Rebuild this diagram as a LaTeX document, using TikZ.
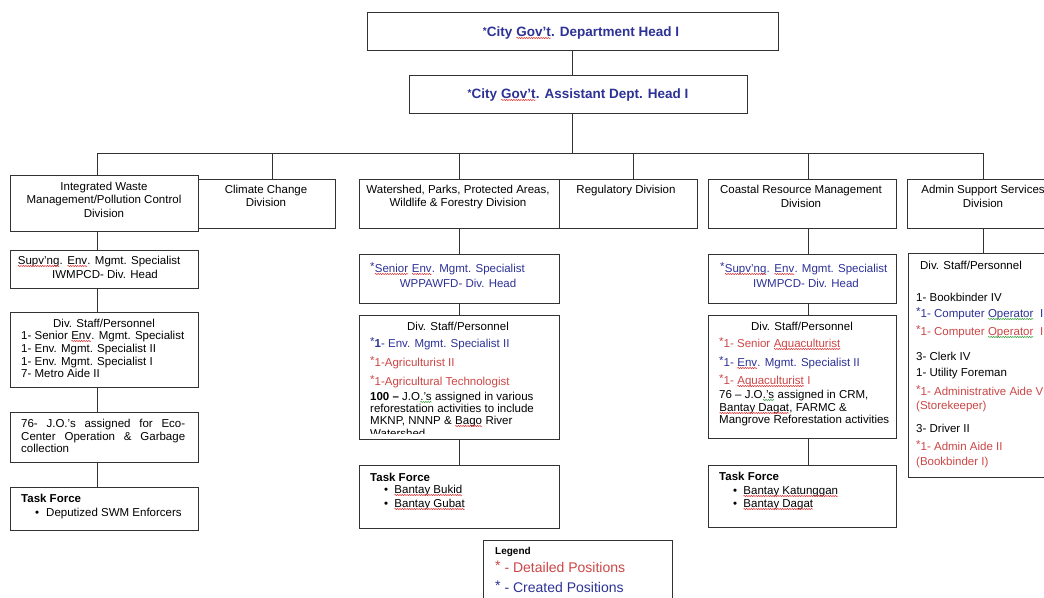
\documentclass[tikz,border=0pt]{standalone}
\usepackage{fontspec}
\setmainfont{Liberation Sans}
\usetikzlibrary{decorations.pathmorphing}

\definecolor{blu}{RGB}{45,50,150}
\definecolor{rd}{RGB}{205,70,70}
\definecolor{wavered}{RGB}{225,45,45}
\definecolor{wavegreen}{RGB}{50,160,60}
\definecolor{edge}{RGB}{50,50,50}

% spell-check style wavy underlines
\tikzset{squiggle/.style={line width=0.5pt, decorate,
  decoration={snake, amplitude=0.6pt, segment length=2.4pt}}}
\newcommand\wavyline[2]{\tikz[baseline=(w.base)]{\node[inner sep=0pt, outer sep=0pt] (w) {#2};
  \draw[squiggle, #1] ([yshift=-2pt]w.base west) -- ([yshift=-2pt]w.base east);}}
\newcommand\redwave[1]{\wavyline{wavered}{#1}}
\newcommand\greenwave[1]{\wavyline{wavegreen}{#1}}

% raised asterisk marking a position
\newcommand\pstar{\raisebox{1.8pt}{*}}
\newcommand\hstar{\raisebox{2pt}{\fontsize{10}{10}\selectfont *}}
% rectangle node given by its corners
\newcommand\orgbox[5]{\node[box, minimum width={((#4)-(#2))*1pt}, minimum height={((#5)-(#3))*1pt}] (#1) at (#2,#3) {};}
% one line of text, left aligned at its baseline
\newcommand\tl[4]{\node[txt] (#1) at (#2,#3) {#4};}
% one line of text, centred at its baseline
\newcommand\tc[4]{\node[ctxt] (#1) at (#2,#3) {#4};}

\tikzset{
  box/.style={draw=edge, line width=0.9pt, fill=white, rectangle, inner sep=0pt, outer sep=0pt, anchor=north west},
  link/.style={draw=edge, line width=0.9pt},
  txt/.style={inner sep=0pt, font=\fontsize{11.5}{13}\selectfont, anchor=base west},
  ctxt/.style={txt, anchor=base},
  head/.style={inner sep=0pt, anchor=base, text=blu, font=\fontsize{13.5}{16}\selectfont\bfseries},
}

\begin{document}
\begin{tikzpicture}[x=1pt, y=-1pt]
\useasboundingbox (0,0) rectangle (1044,597);
\clip (0,0) rectangle (1044,597);
\fill[white] (0,0) rectangle (1044,597);

% ---- boxes ----
\orgbox{hd}{367}{12}{778}{50}
\orgbox{as}{409}{75}{747}{113}

\orgbox{iw}{10}{175}{198}{231}
\orgbox{cc}{198}{179}{335}{228}
\orgbox{ws}{359}{179}{559}{228}
\orgbox{rg}{559}{179}{697}{228}
\orgbox{cr}{708}{179}{896}{228}
\orgbox{ad}{907}{179}{1080}{228}

\orgbox{sv1}{10}{250}{198}{288}
\orgbox{st1}{10}{312}{198}{387}
\orgbox{jo1}{10}{412}{198}{462}
\orgbox{tf1}{10}{487}{198}{530}

\orgbox{sn2}{359}{254}{559}{303}
\orgbox{st2}{359}{315}{559}{439}
\orgbox{tf2}{359}{465}{559}{528}

\orgbox{sv3}{708}{254}{896}{303}
\orgbox{st3}{708}{315}{896}{438}
\orgbox{tf3}{708}{465}{896}{527}

\orgbox{st4}{908}{253}{1080}{477}

\orgbox{lg}{483}{540}{672}{630}

% ---- connectors ----
\coordinate (busL) at (97,153);
\coordinate (busR) at (983,153);
\coordinate (d1) at (97,153);
\coordinate (d2) at (272,153);
\coordinate (d3) at (459,153);
\coordinate (d4) at (633,153);
\coordinate (d5) at (808,153);
\coordinate (d6) at (983,153);

\draw[link] (hd.south) -- (hd.south |- as.north);
\draw[link] (hd.south |- as.south) -- (hd.south |- busL);
\draw[link] (busL) -- (busR);
\draw[link] (d1) -- (d1 |- iw.north);
\draw[link] (d2) -- (d2 |- cc.north);
\draw[link] (d3) -- (d3 |- ws.north);
\draw[link] (d4) -- (d4 |- rg.north);
\draw[link] (d5) -- (d5 |- cr.north);
\draw[link] (d6) -- (d6 |- ad.north);

\draw[link] (d1 |- iw.south) -- (d1 |- sv1.north);
\draw[link] (d1 |- sv1.south) -- (d1 |- st1.north);
\draw[link] (d1 |- st1.south) -- (d1 |- jo1.north);
\draw[link] (d1 |- jo1.south) -- (d1 |- tf1.north);

\draw[link] (d3 |- ws.south) -- (d3 |- sn2.north);
\draw[link] (d3 |- sn2.south) -- (d3 |- st2.north);
\draw[link] (d3 |- st2.south) -- (d3 |- tf2.north);

\draw[link] (d5 |- cr.south) -- (d5 |- sv3.north);
\draw[link] (d5 |- sv3.south) -- (d5 |- st3.north);
\draw[link] (d5 |- st3.south) -- (d5 |- tf3.north);

\draw[link] (d6 |- ad.south) -- (d6 |- st4.north);

% ---- headings ----
\node[head] (hdt) at (581,36) {\hstar City \redwave{Gov't}. Department Head I};
\node[head] (ast) at (578,98) {\hstar City \redwave{Gov't}. Assistant Dept. Head I};

% ---- division titles ----
\tc{iw1}{104}{190}{Integrated Waste}
\tc{iw2}{104}{203}{Management/Pollution Control}
\tc{iw3}{104}{217}{Division}
\tc{cc1}{266}{193}{Climate Change}
\tc{cc2}{266}{206}{Division}
\tc{ws1}{458}{193}{Watershed, Parks, Protected Areas,}
\tc{ws2}{458}{206}{Wildlife \& Forestry Division}
\tc{rg1}{626}{193}{Regulatory Division}
\tc{cr1}{801}{193}{Coastal Resource Management}
\tc{cr2}{801}{207}{Division}
\tc{ad1}{983}{193}{Admin Support Services}
\tc{ad2}{983}{207}{Division}

% ---- waste management column ----
\tc{sv1a}{99}{264}{\redwave{Supv'ng}. \redwave{Env}. Mgmt. Specialist}
\tc{sv1b}{105}{278}{IWMPCD- Div. Head}

\tc{st1h}{104}{327}{Div. Staff/Personnel}
\tl{st1a}{21}{339}{1- Senior \redwave{Env}. Mgmt. Specialist}
\tl{st1b}{21}{352}{1- Env. Mgmt. Specialist II}
\tl{st1c}{21}{365}{1- Env. Mgmt. Specialist I}
\tl{st1d}{21}{377}{7- Metro Aide II}

\tl{jo1a}{21}{427}{\makebox[164pt][s]{76- J.O.'s assigned for Eco-}}
\tl{jo1b}{21}{440}{\makebox[164pt][s]{Center Operation \& Garbage}}
\tl{jo1c}{21}{452}{collection}

\tl{tf1h}{21}{502}{\textbf{Task Force}}
\tl{tf1p}{35}{516}{\textbullet}
\tl{tf1a}{46}{516}{Deputized SWM Enforcers}

% ---- watershed column ----
\tl{sn2a}{370}{272}{\color{blu}\pstar\redwave{Senior} \redwave{Env}. Mgmt. Specialist}
\tc{sn2b}{458}{287}{\color{blu}WPPAWFD- Div. Head}

\tc{st2h}{458}{330}{Div. Staff/Personnel}
\begin{scope}
\clip (st2.north west) rectangle ([yshift=6pt]st2.south east);
\tl{st2a}{370}{347}{\color{blu}\pstar\textbf{1}- Env. Mgmt. Specialist II}
\tl{st2b}{370}{366}{\color{rd}\pstar 1-Agriculturist II}
\tl{st2c}{370}{385}{\color{rd}\pstar 1-Agricultural Technologist}
\tl{st2d}{370}{400}{\textbf{100 --} J.O\greenwave{.'s} assigned in various}
\tl{st2e}{370}{412}{reforestation activities to include}
\tl{st2f}{370}{424}{MKNP, NNNP \& \redwave{Bago} River}
\tl{st2g}{370}{437}{Watershed}
\end{scope}

\tl{tf2h}{370}{481}{\textbf{Task Force}}
\tl{tf2p}{384}{493}{\textbullet}
\tl{tf2a}{394}{493}{\redwave{Bantay Bukid}}
\tl{tf2q}{384}{507}{\textbullet}
\tl{tf2b}{394}{507}{\redwave{Bantay Gubat}}

% ---- coastal column ----
\tl{sv3a}{720}{272}{\color{blu}\pstar\redwave{Supv'ng}. \redwave{Env}. Mgmt. Specialist}
\tc{sv3b}{806}{287}{\color{blu}IWMPCD- Div. Head}

\tc{st3h}{802}{330}{Div. Staff/Personnel}
\tl{st3a}{719}{347}{\color{rd}\pstar 1- Senior \redwave{Aquaculturist}}
\tl{st3b}{719}{366}{\color{blu}\pstar 1- \redwave{Env}. Mgmt. Specialist II}
\tl{st3c}{719}{384}{\color{rd}\pstar 1- \redwave{Aquaculturist} I}
\tl{st3d}{719}{398}{76 -- J.O\greenwave{.'s} assigned in CRM,}
\tl{st3e}{719}{411}{\redwave{Bantay Dagat}, FARMC \&}
\tl{st3f}{719}{423}{Mangrove Reforestation activities}

\tl{tf3h}{719}{480}{\textbf{Task Force}}
\tl{tf3p}{733}{494}{\textbullet}
\tl{tf3a}{743}{494}{\redwave{Bantay Katunggan}}
\tl{tf3q}{733}{507}{\textbullet}
\tl{tf3b}{743}{507}{\redwave{Bantay Dagat}}

% ---- admin column ----
\tc{st4h}{971}{269}{Div. Staff/Personnel}
\tl{st4a}{916}{301}{1- Bookbinder IV}
\tl{st4b}{916}{317}{\color{blu}\pstar 1- Computer \greenwave{Operator}\ \ I}
\tl{st4c}{916}{335}{\color{rd}\pstar 1- Computer \greenwave{Operator}\ \ I}
\tl{st4d}{916}{360}{3- Clerk IV}
\tl{st4e}{916}{376}{1- Utility Foreman}
\tl{st4f}{916}{395}{\color{rd}\pstar 1- Administrative Aide VI}
\tl{st4g}{916}{409}{\color{rd}(Storekeeper)}
\tl{st4i}{916}{432}{3- Driver II}
\tl{st4j}{916}{450}{\color{rd}\pstar 1- Admin Aide II}
\tl{st4k}{916}{465}{\color{rd}(Bookbinder I)}

% ---- legend ----
\node[txt, font=\fontsize{10}{12}\selectfont\bfseries] (lgh) at (495,554) {Legend};
\node[txt, font=\fontsize{14}{16}\selectfont, text=rd] (lgr) at (495,572) {\pstar\ - Detailed Positions};
\node[txt, font=\fontsize{14}{16}\selectfont, text=blu] (lgb) at (495,592) {\pstar\ - Created Positions};
\end{tikzpicture}
\end{document}
